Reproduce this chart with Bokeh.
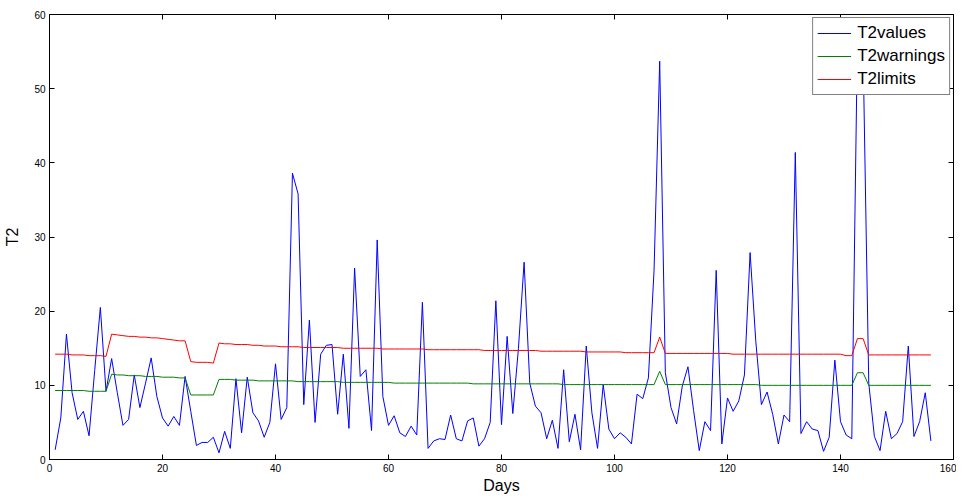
from bokeh.plotting import figure
from bokeh.models import Range1d, LinearAxis, SingleIntervalTicker, CustomJSTickFormatter
from bokeh.embed import file_html
from bokeh.resources import INLINE

days = list(range(1, 157))

t2_values = [
    1.3, 5.6, 16.9, 9.0, 5.4, 6.5, 3.2, 12.0, 20.5, 9.2,
    13.6, 9.0, 4.6, 5.4, 11.4, 7.0, 10.3, 13.7, 8.5, 5.6,
    4.5, 5.8, 4.6, 11.2, 6.5, 1.9, 2.3, 2.3, 3.0, 0.9,
    3.8, 1.5, 10.9, 3.6, 11.1, 6.3, 5.2, 3.0, 5.0, 12.9,
    5.4, 7.0, 38.6, 35.8, 7.4, 18.8, 5.0, 14.2, 15.4, 15.5,
    6.1, 14.2, 4.2, 25.8, 11.2, 12.1, 3.9, 29.6, 8.5, 4.6,
    5.9, 3.6, 3.1, 4.5, 3.3, 21.2, 1.5, 2.5, 2.8, 2.7,
    6.0, 2.8, 2.5, 5.2, 5.6, 1.8, 2.8, 5.0, 21.4, 4.7,
    16.6, 6.2, 15.0, 26.6, 10.3, 7.2, 6.3, 2.8, 5.3, 1.5,
    12.1, 2.4, 6.1, 1.3, 15.3, 6.3, 1.5, 10.1, 4.1, 2.8,
    3.6, 3.0, 2.1, 8.8, 8.2, 11.0, 25.5, 53.7, 11.7, 7.0,
    4.8, 9.9, 12.5, 6.6, 1.2, 5.1, 3.9, 25.5, 2.1, 8.3,
    6.5, 7.9, 11.4, 27.9, 16.0, 7.4, 9.1, 6.1, 2.1, 6.0,
    5.1, 41.4, 3.5, 5.1, 4.1, 3.9, 1.1, 3.0, 13.4, 5.1,
    3.3, 2.8, 57.0, 55.0, 10.3, 3.1, 1.2, 6.5, 2.8, 3.5,
    5.1, 15.3, 3.1, 5.1, 9.0, 2.5,
]

t2_warnings = [
    9.3, 9.3, 9.3, 9.3, 9.3, 9.3, 9.2, 9.2, 9.2, 9.2,
    11.5, 11.4, 11.4, 11.3, 11.3, 11.3, 11.2, 11.2, 11.2, 11.1,
    11.1, 11.1, 11.0, 11.0, 8.7, 8.7, 8.7, 8.7, 8.7, 10.8,
    10.8, 10.8, 10.7, 10.7, 10.7, 10.7, 10.6, 10.6, 10.6, 10.6,
    10.6, 10.6, 10.6, 10.5, 10.5, 10.5, 10.5, 10.5, 10.5, 10.5,
    10.5, 10.4, 10.4, 10.4, 10.4, 10.4, 10.4, 10.4, 10.4, 10.4,
    10.3, 10.3, 10.3, 10.3, 10.3, 10.3, 10.3, 10.3, 10.3, 10.3,
    10.3, 10.3, 10.3, 10.3, 10.2, 10.2, 10.2, 10.2, 10.2, 10.2,
    10.2, 10.2, 10.2, 10.2, 10.2, 10.2, 10.2, 10.2, 10.2, 10.2,
    10.1, 10.1, 10.1, 10.1, 10.1, 10.1, 10.1, 10.1, 10.1, 10.1,
    10.1, 10.1, 10.1, 10.1, 10.1, 10.1, 10.1, 11.9, 10.1, 10.1,
    10.1, 10.1, 10.1, 10.1, 10.1, 10.1, 10.1, 10.1, 10.1, 10.1,
    10.1, 10.1, 10.1, 10.1, 10.1, 10.0, 10.0, 10.0, 10.0, 10.0,
    10.0, 10.0, 10.0, 10.0, 10.0, 10.0, 10.0, 10.0, 10.0, 10.0,
    10.0, 10.0, 11.7, 11.7, 10.0, 10.0, 10.0, 10.0, 10.0, 10.0,
    10.0, 10.0, 10.0, 10.0, 10.0, 10.0,
]

t2_limits = [
    14.2, 14.2, 14.2, 14.1, 14.1, 14.1, 14.0, 14.0, 14.0, 13.9,
    16.9, 16.8, 16.7, 16.6, 16.6, 16.5, 16.5, 16.4, 16.4, 16.3,
    16.2, 16.1, 16.0, 16.0, 13.2, 13.1, 13.1, 13.1, 13.0, 15.7,
    15.6, 15.6, 15.5, 15.5, 15.5, 15.4, 15.4, 15.3, 15.3, 15.3,
    15.2, 15.2, 15.2, 15.2, 15.1, 15.1, 15.1, 15.1, 15.1, 15.1,
    15.1, 15.0, 15.0, 15.0, 15.0, 15.0, 15.0, 15.0, 14.9, 14.9,
    14.9, 14.9, 14.9, 14.9, 14.9, 14.9, 14.8, 14.8, 14.8, 14.8,
    14.8, 14.8, 14.8, 14.8, 14.8, 14.8, 14.7, 14.7, 14.7, 14.7,
    14.7, 14.7, 14.7, 14.7, 14.7, 14.7, 14.6, 14.6, 14.6, 14.6,
    14.6, 14.6, 14.6, 14.6, 14.5, 14.5, 14.5, 14.5, 14.5, 14.5,
    14.5, 14.4, 14.4, 14.4, 14.4, 14.4, 14.4, 16.5, 14.3, 14.3,
    14.3, 14.3, 14.3, 14.3, 14.3, 14.3, 14.3, 14.3, 14.3, 14.3,
    14.2, 14.2, 14.2, 14.2, 14.2, 14.2, 14.2, 14.2, 14.2, 14.2,
    14.2, 14.2, 14.2, 14.2, 14.2, 14.2, 14.2, 14.2, 14.2, 14.2,
    14.0, 14.0, 16.3, 16.3, 14.1, 14.1, 14.1, 14.1, 14.1, 14.1,
    14.1, 14.1, 14.1, 14.1, 14.1, 14.1,
]

x_ticks_step = 20
y_ticks_step = 10

FONT = "Liberation Sans"

p = figure(
    width=956, height=496,
    output_backend="svg", toolbar_location=None,
    x_range=Range1d(0, 160), y_range=Range1d(0, 60),
    min_border_left=49, min_border_right=3, min_border_top=14, min_border_bottom=0,
    x_axis_label="Days", y_axis_label="T2",
)
p.xgrid.visible = False
p.ygrid.visible = False
p.outline_line_color = "black"
p.outline_line_width = 1
p.background_fill_color = "white"
p.border_fill_color = "white"

p.line(days, t2_values, line_color="#0000FF", line_width=1, legend_label="T2values")
p.line(days, t2_warnings, line_color="#008000", line_width=1, legend_label="T2warnings")
p.line(days, t2_limits, line_color="#FF0000", line_width=1, legend_label="T2limits")

p.xaxis.ticker = SingleIntervalTicker(interval=x_ticks_step)
p.yaxis.ticker = SingleIntervalTicker(interval=y_ticks_step)

for ax in [p.xaxis[0], p.yaxis[0]]:
    ax.major_tick_in = 5
    ax.major_tick_out = 0
    ax.minor_tick_in = 0
    ax.minor_tick_out = 0
    ax.axis_line_color = "black"
    ax.major_tick_line_color = "black"
    ax.major_label_text_font = FONT
    ax.major_label_text_font_size = "10px"
    ax.major_label_text_color = "black"
    ax.major_label_standoff = 4
    ax.axis_label_text_font = FONT
    ax.axis_label_text_font_size = "16px"
    ax.axis_label_text_font_style = "normal"
    ax.axis_label_text_color = "black"
    ax.axis_label_standoff = 4

p.xaxis[0].axis_label_standoff = 2
p.yaxis[0].axis_label_standoff = 10

blank = CustomJSTickFormatter(code="return ''")
top_ax = LinearAxis(ticker=SingleIntervalTicker(interval=x_ticks_step), formatter=blank)
right_ax = LinearAxis(ticker=SingleIntervalTicker(interval=y_ticks_step), formatter=blank)
for ax in [top_ax, right_ax]:
    ax.major_tick_in = 5
    ax.major_tick_out = 0
    ax.minor_tick_in = 0
    ax.minor_tick_out = 0
    ax.major_label_standoff = 0
    ax.axis_line_color = "black"
p.add_layout(top_ax, "above")
p.add_layout(right_ax, "right")

lg = p.legend[0]
lg.location = "top_right"
lg.margin = 3
lg.padding = 4
lg.spacing = 1
lg.label_height = 22
lg.glyph_height = 22
lg.glyph_width = 34
lg.label_standoff = 6
lg.label_text_font = FONT
lg.label_text_font_size = "17px"
lg.label_text_color = "black"
lg.border_line_color = "black"
lg.border_line_width = 1
lg.background_fill_color = "white"
lg.background_fill_alpha = 1.0

open("out.html", "w").write(file_html(p, INLINE))
